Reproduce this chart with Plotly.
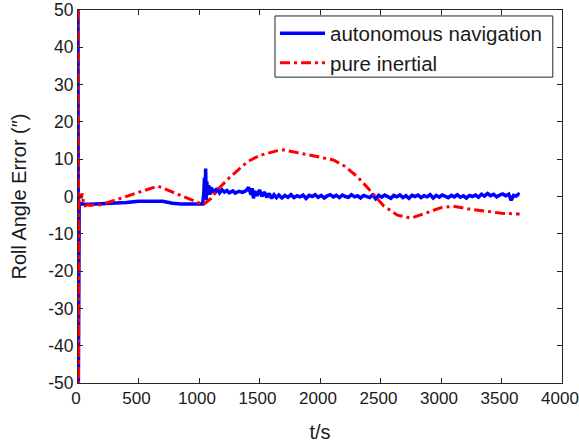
import plotly.graph_objects as go

# Roll angle error traces (arc-seconds) versus time (s)
auto_t = [0, 3, 10, 40, 100, 200, 300, 400, 500, 600, 700, 780, 850, 950, 1030,
          1040, 1045, 1050, 1055, 1060, 1065, 1070, 1080, 1090, 1100, 1110, 1120, 1130,
          1150, 1170, 1190, 1210, 1230, 1250, 1280, 1300, 1330, 1360, 1390, 1410, 1430,
          1440, 1450, 1460, 1480, 1500, 1520, 1540, 1560, 1580, 1600, 1620, 1640, 1660,
          1685, 1710, 1735, 1760, 1785, 1810, 1835, 1860, 1885, 1910, 1935, 1960, 1985,
          2010, 2035, 2060, 2085, 2110, 2135, 2160, 2185, 2210, 2235, 2260, 2285, 2310,
          2335, 2360, 2385, 2410, 2435, 2460, 2485, 2510, 2535, 2560, 2585, 2610, 2635,
          2660, 2685, 2710, 2735, 2760, 2785, 2810, 2835, 2860, 2885, 2910, 2935, 2960,
          2985, 3010, 3035, 3060, 3085, 3110, 3135, 3160, 3185, 3210, 3235, 3260, 3285,
          3310, 3335, 3360, 3385, 3410, 3435, 3460, 3485, 3510, 3535, 3560, 3580, 3600,
          3620, 3640, 3650]
auto_err = [50, -50, -1.8, -2.0, -2.1, -2.0, -1.8, -1.6, -1.3, -1.2, -1.3, -1.8, -2.0, -2.0, -2.0,
            1.0, 5.0, 0.0, 7.5, -1.0, 4.0, 0.5, 3.0, 0.5, 2.5, 1.0, 2.0, 0.8,
            2.2, 1.0, 1.8, 1.2, 1.6, 1.0, 1.5, 0.9, 1.4, 1.1, 1.6, 2.5, 0.5,
            2.2, -0.5, 1.5, 0.2, 1.8, 0.0, 1.2, -0.2, 0.8, -0.5, 0.5, -0.3, 0.4,
            -0.4, 0.3, -0.2, 0.5, -0.3, 0.2, -0.1, 0.4, -0.5, 0.3, 0.0, 0.5, -0.2,
            0.3, -0.4, 0.2, 0.5, -0.1, 0.3, -0.3, 0.4, 0.0, -0.2, 0.5, -0.1, 0.2,
            -0.4, 0.3, 0.1, -0.3, 0.4, -0.6, 0.3, -0.2, 0.4, 0.0, -0.5, 0.3, -0.1,
            0.4, -0.3, 0.2, -0.5, 0.3, 0.0, 0.4, -0.3, 0.2, -0.1, 0.5, -0.4, 0.3,
            -0.2, 0.4, 0.1, -0.3, 0.3, -0.1, 0.5, -0.2, 0.2, -0.4, 0.3, 0.0, 0.4,
            -0.2, 0.6, 0.1, 0.8, 0.2, 0.6, -0.1, 0.4, 0.7, 0.2, 0.6, -1.0, 0.3,
            0.1, 0.6, 0.5]

inertial_t = [0, 4, 8, 15, 25, 35, 45, 60, 80, 100, 130, 170, 210, 660, 1035,
              1100, 1150, 1250, 1400, 1500, 1650, 1700, 1780, 1850, 1950, 2050, 2110,
              2200, 2310, 2420, 2525, 2640, 2750, 2860, 3000, 3100, 3220, 3390, 3500, 3650]
inertial_err = [50, -50, 0.5, 1.2, -0.5, 0.8, -1.5, -2.5, -2.2, -2.4, -2.2, -2.3, -2.0, 2.8, -2.2,
                -0.5, 1.7, 5.0, 9.3, 11.0, 12.3, 12.5, 12.0, 11.5, 10.8, 10.3, 9.8,
                8.2, 5.3, 1.4, -2.5, -5.0, -5.8, -4.6, -3.0, -2.6, -3.3, -4.0, -4.5, -4.7]

x_ticks = [0, 500, 1000, 1500, 2000, 2500, 3000, 3500, 4000]
y_ticks = [-50, -40, -30, -20, -10, 0, 10, 20, 30, 40, 50]

FONT = "Liberation Sans, Arial, sans-serif"
AXIS_COLOR = "#262626"
TEXT_COLOR = "#1a1a1a"

fig = go.Figure()
fig.add_trace(go.Scatter(
    x=auto_t, y=auto_err, mode="lines", name="autonomous navigation",
    line=dict(color="#0000ff", width=3.5),
))
fig.add_trace(go.Scatter(
    x=inertial_t, y=inertial_err, mode="lines", name="pure inertial",
    line=dict(color="#ff0000", width=3, dash="10px,4px,3px,4px"),
))

axis_common = dict(
    showline=True, linecolor=AXIS_COLOR, linewidth=1, mirror="ticks",
    ticks="inside", ticklen=5, tickcolor=AXIS_COLOR, showgrid=False, zeroline=False,
    ticklabeloverflow="allow", automargin=False,
)

fig.update_xaxes(
    range=[0, 4000], tickvals=x_ticks, ticktext=[str(v) for v in x_ticks],
    tickfont=dict(family=FONT, size=17, color=TEXT_COLOR), ticklabelshift=-2,
    title=dict(text="t/s", font=dict(family=FONT, size=20, color=TEXT_COLOR), standoff=17),
    **axis_common,
)
fig.update_yaxes(
    range=[-50, 50], tickvals=y_ticks, ticktext=[str(v) for v in y_ticks],
    tickfont=dict(family=FONT, size=17.5, color=TEXT_COLOR),
    title=dict(text="Roll Angle Error (″)", font=dict(family=FONT, size=20, color=TEXT_COLOR), standoff=16),
    **axis_common,
)

# framed legend box behind the legend entries
fig.add_shape(
    type="rect", xref="paper", yref="paper",
    x0=0.407, x1=0.981, y0=0.820, y1=0.984,
    line=dict(color=AXIS_COLOR, width=1), fillcolor="white", layer="above",
)

fig.update_layout(
    width=579, height=444,
    margin=dict(l=78, r=17, t=10, b=61, autoexpand=False),
    paper_bgcolor="white", plot_bgcolor="white",
    showlegend=True,
    legend=dict(
        x=0.407, y=0.991, xanchor="left", yanchor="top",
        bgcolor="rgba(0,0,0,0)", borderwidth=0,
        font=dict(family=FONT, size=20.5, color=TEXT_COLOR),
        itemwidth=45, tracegroupgap=0,
    ),
)

fig.write_html("out.html")
